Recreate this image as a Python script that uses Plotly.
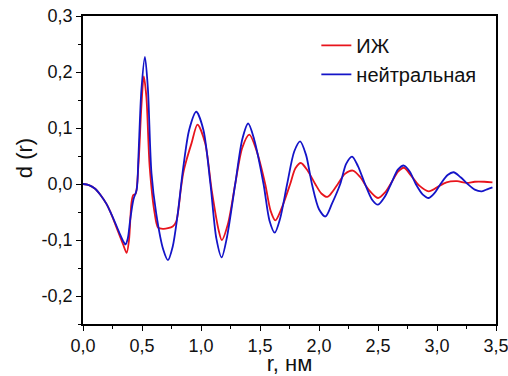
import plotly.graph_objects as go

# ---- data ----
r_ij = [0.00, 0.05, 0.10, 0.15, 0.20, 0.23, 0.27, 0.31, 0.34, 0.37, 0.39, 0.41, 0.425, 0.445,
        0.47, 0.495, 0.515, 0.537, 0.565, 0.607, 0.636, 0.68, 0.72, 0.76, 0.79, 0.83, 0.85,
        0.88, 0.92, 0.97, 1.035, 1.09, 1.15, 1.176, 1.23, 1.29, 1.35, 1.41, 1.47, 1.544,
        1.59, 1.63, 1.68, 1.756, 1.80, 1.846, 1.90, 1.968, 2.02, 2.07, 2.11, 2.16, 2.22,
        2.287, 2.35, 2.42, 2.50, 2.56, 2.62, 2.67, 2.72, 2.78, 2.85, 2.93, 3.00, 3.08,
        3.17, 3.25, 3.32, 3.40, 3.47]
d_ij = [0.000, -0.002, -0.008, -0.020, -0.036, -0.049, -0.070, -0.092, -0.108, -0.123, -0.100,
        -0.035, -0.020, -0.018, 0.035, 0.139, 0.192, 0.156, 0.031, -0.052, -0.078, -0.080,
        -0.079, -0.076, -0.067, -0.008, 0.020, 0.045, 0.073, 0.106, 0.073, -0.010, -0.083,
        -0.100, -0.070, 0.000, 0.065, 0.088, 0.060, 0.000, -0.048, -0.065, -0.045, 0.000,
        0.028, 0.0375, 0.025, 0.000, -0.017, -0.023, -0.015, 0.000, 0.018, 0.024, 0.012,
        -0.010, -0.025, -0.015, 0.005, 0.022, 0.029, 0.015, -0.003, -0.013, -0.006, 0.003,
        0.005, 0.002, 0.004, 0.004, 0.003]

r_neu = [0.00, 0.05, 0.10, 0.15, 0.20, 0.23, 0.27, 0.31, 0.34, 0.36, 0.38, 0.40, 0.427, 0.455,
         0.47, 0.495, 0.525, 0.55, 0.58, 0.62, 0.68, 0.72, 0.76, 0.80, 0.85, 0.90, 0.96,
         1.02, 1.08, 1.13, 1.175, 1.22, 1.29, 1.35, 1.40, 1.45, 1.53, 1.58, 1.625, 1.67,
         1.73, 1.79, 1.84, 1.89, 1.94, 2.00, 2.055, 2.11, 2.18, 2.23, 2.28, 2.33, 2.39,
         2.45, 2.50, 2.56, 2.61, 2.67, 2.72, 2.77, 2.82, 2.88, 2.93, 2.98, 3.03, 3.09,
         3.14, 3.20, 3.26, 3.32, 3.38, 3.43, 3.47]
d_neu = [0.000, -0.002, -0.008, -0.020, -0.036, -0.049, -0.068, -0.088, -0.102, -0.108, -0.097,
         -0.064, -0.028, -0.010, 0.050, 0.168, 0.227, 0.170, 0.020, -0.052, -0.117, -0.136,
         -0.112, -0.058, 0.030, 0.097, 0.129, 0.097, 0.000, -0.097, -0.131, -0.095, 0.000,
         0.080, 0.108, 0.080, 0.000, -0.065, -0.087, -0.062, 0.000, 0.058, 0.076, 0.052,
         0.000, -0.045, -0.058, -0.035, 0.000, 0.036, 0.049, 0.032, 0.000, -0.028, -0.037,
         -0.022, 0.000, 0.026, 0.033, 0.022, 0.000, -0.019, -0.025, -0.016, 0.000, 0.016,
         0.021, 0.012, 0.000, -0.010, -0.013, -0.009, -0.006]

x_tickvals = [0.0, 0.5, 1.0, 1.5, 2.0, 2.5, 3.0, 3.5]
x_ticktext = ["0,0", "0,5", "1,0", "1,5", "2,0", "2,5", "3,0", "3,5"]
y_tickvals = [-0.2, -0.1, 0.0, 0.1, 0.2, 0.3]
y_ticktext = ["-0,2", "-0,1", "0,0", "0,1", "0,2", "0,3"]

FONT = "Liberation Sans, Arial, sans-serif"

fig = go.Figure()
fig.add_trace(go.Scatter(x=r_ij, y=d_ij, mode="lines", name="ИЖ",
                         line=dict(color="#e8141c", width=1.8, shape="spline", smoothing=0.8)))
fig.add_trace(go.Scatter(x=r_neu, y=d_neu, mode="lines", name="нейтральная",
                         line=dict(color="#1414c8", width=1.8, shape="spline", smoothing=0.8)))

axis_common = dict(showline=True, linecolor="black", linewidth=1.5, mirror=True,
                   ticks="outside", ticklen=5, tickwidth=1.2, tickcolor="black",
                   showgrid=False, zeroline=False, ticklabeloverflow="allow",
                   tickfont=dict(family=FONT, size=18, color="#111"))

fig.update_xaxes(range=[0, 3.5], tickvals=x_tickvals, ticktext=x_ticktext,
                 minor=dict(ticks="outside", ticklen=3, dtick=0.25, tick0=0, tickcolor="black"),
                 title=dict(text="r, нм", font=dict(family=FONT, size=22, color="#111"), standoff=3),
                 **axis_common)
fig.update_yaxes(range=[-0.25, 0.3], tickvals=y_tickvals, ticktext=y_ticktext,
                 minor=dict(ticks="outside", ticklen=3, dtick=0.05, tick0=0, tickcolor="black"),
                 **axis_common)

fig.add_annotation(text="d (r)", xref="paper", yref="paper", x=-0.14, y=0.539,
                   textangle=-90, showarrow=False, xanchor="center", yanchor="middle",
                   font=dict(family=FONT, size=22, color="#111"))

fig.update_layout(
    width=508, height=376,
    margin=dict(l=83, r=12, t=16, b=52, autoexpand=False),
    paper_bgcolor="white", plot_bgcolor="white",
    showlegend=True,
    legend=dict(x=0.565, y=0.968, xanchor="left", yanchor="top",
                bgcolor="rgba(0,0,0,0)", borderwidth=0,
                font=dict(family=FONT, size=20, color="#111"),
                tracegroupgap=0),
)

fig.write_html("out.html")
